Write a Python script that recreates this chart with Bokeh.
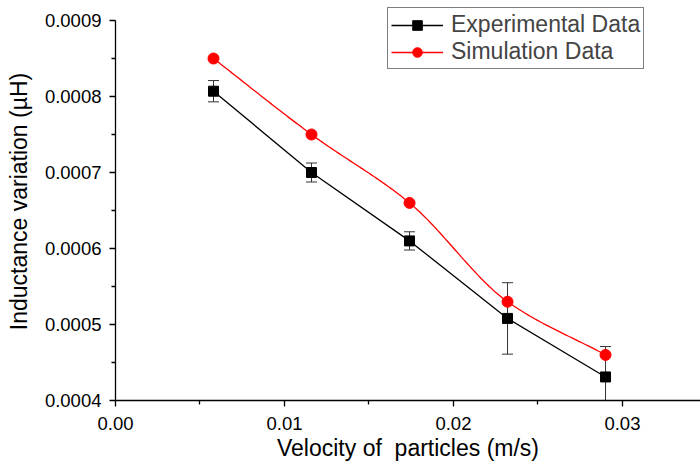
import numpy as np
from bokeh.plotting import figure
from bokeh.models import (ColumnDataSource, Whisker, TeeHead, FixedTicker, Range1d,
                          Legend, LegendItem, Title)
from bokeh.embed import file_html
from bokeh.resources import INLINE

# ---- data ----
velocity = [0.0058, 0.0116, 0.0174, 0.0232, 0.0290]
experimental = [0.000807, 0.000700, 0.000610, 0.000508, 0.000431]
exp_error = [0.000014, 0.0000125, 0.000012, 0.000047, 0.000040]
simulation = [0.000850, 0.000750, 0.000660, 0.000530, 0.000460]

x_ticks = [0.00, 0.01, 0.02, 0.03]
x_tick_labels = ["0.00", "0.01", "0.02", "0.03"]
y_ticks = [0.0004, 0.0005, 0.0006, 0.0007, 0.0008, 0.0009]
y_tick_labels = ["0.0004", "0.0005", "0.0006", "0.0007", "0.0008", "0.0009"]


def pchip(x, y, n=200):
    """Monotone (Fritsch-Carlson) cubic curve drawn through the data points."""
    x = np.asarray(x, float)
    y = np.asarray(y, float)
    h = np.diff(x)
    d = np.diff(y) / h
    k = len(x)
    m = np.zeros(k)
    m[0], m[-1] = d[0], d[-1]
    for i in range(1, k - 1):
        if d[i - 1] * d[i] > 0:
            w1 = 2 * h[i] + h[i - 1]
            w2 = h[i] + 2 * h[i - 1]
            m[i] = (w1 + w2) / (w1 / d[i - 1] + w2 / d[i])
    xs = np.linspace(x[0], x[-1], n)
    ys = np.empty_like(xs)
    for j, xv in enumerate(xs):
        i = min(np.searchsorted(x, xv, side="right") - 1, k - 2)
        t = (xv - x[i]) / h[i]
        h00 = 2 * t ** 3 - 3 * t ** 2 + 1
        h10 = t ** 3 - 2 * t ** 2 + t
        h01 = -2 * t ** 3 + 3 * t ** 2
        h11 = t ** 3 - t ** 2
        ys[j] = h00 * y[i] + h10 * h[i] * m[i] + h01 * y[i + 1] + h11 * h[i] * m[i + 1]
    return xs, ys


FONT = "Liberation Sans"

p = figure(width=700, height=463, output_backend="svg", toolbar_location=None,
           x_range=Range1d(0, 0.03462), y_range=Range1d(0.0004, 0.0009237),
           min_border_left=115, min_border_right=0, min_border_top=2,
           min_border_bottom=63)
p.outline_line_color = None
p.xgrid.visible = False
p.ygrid.visible = False
p.background_fill_color = "white"
p.border_fill_color = "white"

exp_src = ColumnDataSource(dict(
    x=velocity, y=experimental,
    upper=[v + e for v, e in zip(experimental, exp_error)],
    lower=[v - e for v, e in zip(experimental, exp_error)]))
sim_src = ColumnDataSource(dict(x=velocity, y=simulation))

# error bars
w = Whisker(source=exp_src, base="x", upper="upper", lower="lower",
            line_color="#333333", line_width=1,
            upper_head=TeeHead(size=11, line_color="#333333", line_width=1),
            lower_head=TeeHead(size=11, line_color="#333333", line_width=1))
p.add_layout(w)

# experimental: straight line with squares
l1 = p.line("x", "y", source=exp_src, line_color="black", line_width=1.3)
m1 = p.scatter("x", "y", source=exp_src, marker="square", size=10,
               fill_color="black", line_color="black")

# simulation: smooth curve through points with circles
sx, sy = pchip(velocity, simulation)
l2 = p.line(sx, sy, line_color="red", line_width=1.3)
m2 = p.scatter("x", "y", source=sim_src, marker="circle", size=11,
               fill_color="red", line_color="red")

# axes
for ax in (p.xaxis[0], p.yaxis[0]):
    ax.axis_line_color = "black"
    ax.axis_line_width = 1.3
    ax.major_tick_line_color = "black"
    ax.minor_tick_line_color = "black"
    ax.major_tick_line_width = 1.3
    ax.minor_tick_line_width = 1.3
    ax.major_tick_in = 0
    ax.major_tick_out = 6
    ax.minor_tick_in = 0
    ax.minor_tick_out = 4
    ax.major_label_text_font = FONT
    ax.major_label_text_font_size = "18.5px"
    ax.major_label_text_color = "black"
    ax.axis_label_text_font = FONT
    ax.axis_label_text_font_size = "23px"
    ax.axis_label_text_font_style = "normal"
    ax.axis_label_text_color = "black"

p.yaxis.bounds = (0.0004, 0.0009)
p.xaxis.ticker = FixedTicker(ticks=x_ticks, minor_ticks=[0.005, 0.015, 0.025])
p.xaxis.major_label_overrides = {t: s for t, s in zip(x_ticks, x_tick_labels)}
p.yaxis.ticker = FixedTicker(ticks=y_ticks,
                             minor_ticks=[0.00045, 0.00055, 0.00065, 0.00075, 0.00085])
p.yaxis.major_label_overrides = {t: s for t, s in zip(y_ticks, y_tick_labels)}
p.yaxis.axis_label = "Inductance variation (µH)"
p.xaxis.major_label_standoff = 10
p.xaxis.major_label_text_line_height = 1.0
p.yaxis.major_label_standoff = 8
p.yaxis.axis_label_standoff = 10

# x-axis title in a panel below the axis
x_title = Title(text="Velocity of\u00a0 particles (m/s)", align="center",
                text_font=FONT, text_font_size="23px", text_font_style="normal",
                text_color="black", text_line_height=1.0, standoff=0, offset=4)
p.add_layout(x_title, "below")

legend = Legend(items=[LegendItem(label="Experimental Data", renderers=[l1, m1]),
                       LegendItem(label="Simulation Data", renderers=[l2, m2])],
                location=(272, 331), margin=0, padding=3, spacing=0,
                glyph_width=52, glyph_height=24, label_standoff=8,
                label_text_font=FONT, label_text_font_size="23px",
                border_line_color="black", border_line_width=1,
                background_fill_alpha=1.0)
p.add_layout(legend)

open("out.html", "w").write(file_html(p, INLINE))
